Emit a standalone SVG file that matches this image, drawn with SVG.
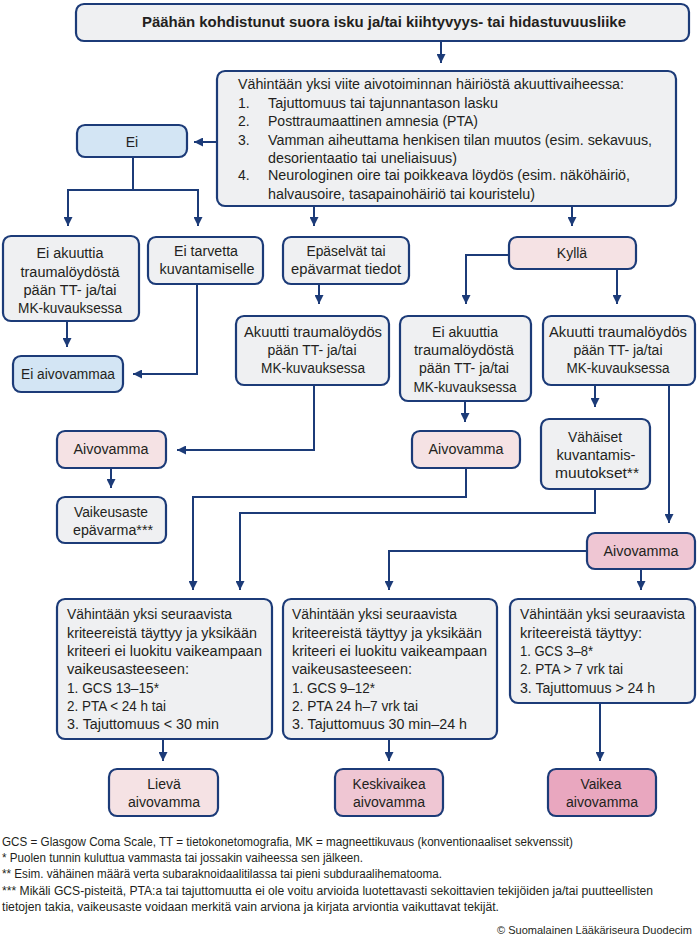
<svg xmlns="http://www.w3.org/2000/svg" width="700" height="947" viewBox="0 0 700 947">
<defs>
<style>
.box{fill:#eff0f2;stroke:#1c3b78;stroke-width:2.2}
.blue{fill:#d3e5f4}
.pink1{fill:#f5e2e4}
.pink2{fill:#efc6d3}
.pink3{fill:#e9a7bf}
text{font-family:"Liberation Sans",Arial,sans-serif;font-size:14px;fill:#231f20}
.c{text-anchor:middle}
.b{font-weight:bold;font-size:15px}
.f{font-size:12px}
.cp{font-size:11.5px}
.con path{fill:none;stroke:#1c3b78;stroke-width:2;marker-end:url(#ah)}
</style>
<marker id="ah" viewBox="0 0 10 10" refX="10" refY="5" markerWidth="9" markerHeight="9" markerUnits="userSpaceOnUse" orient="auto">
<path d="M0,0 L10,5 L0,10 z" fill="#1c3b78"/>
</marker>
</defs>
<rect width="700" height="947" fill="#ffffff"/>

<g class="con">
<path d="M441,41 V63"/>
<path d="M217,142 H194"/>
<path d="M133,157 V190 H68 V226"/>
<path d="M133,190 H198 V226"/>
<path d="M314,206 V226"/>
<path d="M572,206 V226"/>
<path d="M67,321 V347"/>
<path d="M197,284 V374 H133"/>
<path d="M319,284 V304"/>
<path d="M314,385 V450 H177"/>
<path d="M111,468 V488"/>
<path d="M509,255 H466 V304"/>
<path d="M617,269 V304"/>
<path d="M465,401 V422"/>
<path d="M595,385 V407"/>
<path d="M669,385 V523"/>
<path d="M466,468 V497 H193 V590"/>
<path d="M595,489 V513 H240 V590"/>
<path d="M587,551 H389 V590"/>
<path d="M641,569 V590"/>
<path d="M163,739 V761"/>
<path d="M389,739 V761"/>
<path d="M600,703 V761"/>
</g>

<g id="n-top">
<rect class="box" x="76" y="4" width="613" height="37" rx="8"/>
<text class="b" x="142" y="27" textLength="484" lengthAdjust="spacingAndGlyphs">Päähän kohdistunut suora isku ja/tai kiihtyvyys- tai hidastuvuusliike</text>
</g>

<g id="n-criteria">
<rect class="box" x="217" y="71" width="459" height="135" rx="8"/>
<text x="238" y="89" textLength="386" lengthAdjust="spacingAndGlyphs">Vähintään yksi viite aivotoiminnan häiriöstä akuuttivaiheessa:</text>
<text x="238" y="108">1.</text>
<text x="268" y="108" textLength="230" lengthAdjust="spacingAndGlyphs">Tajuttomuus tai tajunnantason lasku</text>
<text x="238" y="126">2.</text>
<text x="268" y="126" textLength="210" lengthAdjust="spacingAndGlyphs">Posttraumaattinen amnesia (PTA)</text>
<text x="238" y="145">3.</text>
<text x="268" y="145" textLength="384" lengthAdjust="spacingAndGlyphs">Vamman aiheuttama henkisen tilan muutos (esim. sekavuus,</text>
<text x="268" y="163" textLength="189" lengthAdjust="spacingAndGlyphs">desorientaatio tai uneliaisuus)</text>
<text x="238" y="180">4.</text>
<text x="268" y="180" textLength="362" lengthAdjust="spacingAndGlyphs">Neurologinen oire tai poikkeava löydös (esim. näköhäiriö,</text>
<text x="268" y="199" textLength="267" lengthAdjust="spacingAndGlyphs">halvausoire, tasapainohäiriö tai kouristelu)</text>
</g>

<g id="n-ei">
<rect class="box blue" x="77" y="125" width="110" height="32" rx="8"/>
<text class="c" x="132" y="147">Ei</text>
</g>

<g id="n-eiakuuttia1">
<rect class="box" x="3" y="236" width="136" height="85" rx="8"/>
<text class="c" x="70" y="258" textLength="67" lengthAdjust="spacingAndGlyphs">Ei akuuttia</text>
<text class="c" x="70" y="277" textLength="99" lengthAdjust="spacingAndGlyphs">traumalöydöstä</text>
<text class="c" x="70" y="295" textLength="93" lengthAdjust="spacingAndGlyphs">pään TT- ja/tai</text>
<text class="c" x="70" y="313" textLength="104" lengthAdjust="spacingAndGlyphs">MK-kuvauksessa</text>
</g>

<g id="n-eitarvetta">
<rect class="box" x="148" y="237" width="115" height="47" rx="8"/>
<text class="c" x="206" y="256" textLength="64" lengthAdjust="spacingAndGlyphs">Ei tarvetta</text>
<text class="c" x="207" y="274" textLength="95" lengthAdjust="spacingAndGlyphs">kuvantamiselle</text>
</g>

<g id="n-epaselvat">
<rect class="box" x="283" y="237" width="126" height="47" rx="8"/>
<text class="c" x="346" y="256" textLength="79" lengthAdjust="spacingAndGlyphs">Epäselvät tai</text>
<text class="c" x="346" y="274" textLength="110" lengthAdjust="spacingAndGlyphs">epävarmat tiedot</text>
</g>

<g id="n-kylla">
<rect class="box pink1" x="509" y="237" width="127" height="32" rx="8"/>
<text class="c" x="572" y="258">Kyllä</text>
</g>

<g id="n-eiaivovammaa">
<rect class="box blue" x="13" y="356" width="110" height="36" rx="8"/>
<text class="c" x="68" y="379" textLength="94" lengthAdjust="spacingAndGlyphs">Ei aivovammaa</text>
</g>

<g id="n-akuutti1">
<rect class="box" x="236" y="316" width="153" height="69" rx="8"/>
<text class="c" x="313" y="337" textLength="138" lengthAdjust="spacingAndGlyphs">Akuutti traumalöydös</text>
<text class="c" x="312" y="355" textLength="89" lengthAdjust="spacingAndGlyphs">pään TT- ja/tai</text>
<text class="c" x="313" y="373" textLength="104" lengthAdjust="spacingAndGlyphs">MK-kuvauksessa</text>
</g>

<g id="n-eiakuuttia2">
<rect class="box" x="400" y="316" width="131" height="85" rx="8"/>
<text class="c" x="465" y="337" textLength="66" lengthAdjust="spacingAndGlyphs">Ei akuuttia</text>
<text class="c" x="464" y="355" textLength="100" lengthAdjust="spacingAndGlyphs">traumalöydöstä</text>
<text class="c" x="464" y="373" textLength="90" lengthAdjust="spacingAndGlyphs">pään TT- ja/tai</text>
<text class="c" x="465" y="392" textLength="103" lengthAdjust="spacingAndGlyphs">MK-kuvauksessa</text>
</g>

<g id="n-akuutti2">
<rect class="box" x="543" y="316" width="152" height="69" rx="8"/>
<text class="c" x="618" y="337" textLength="138" lengthAdjust="spacingAndGlyphs">Akuutti traumalöydös</text>
<text class="c" x="618" y="355" textLength="89" lengthAdjust="spacingAndGlyphs">pään TT- ja/tai</text>
<text class="c" x="618" y="373" textLength="103" lengthAdjust="spacingAndGlyphs">MK-kuvauksessa</text>
</g>

<g id="n-aivovamma1">
<rect class="box pink1" x="57" y="431" width="109" height="37" rx="8"/>
<text class="c" x="111" y="454" textLength="75" lengthAdjust="spacingAndGlyphs">Aivovamma</text>
</g>

<g id="n-aivovamma2">
<rect class="box pink1" x="412" y="431" width="108" height="37" rx="8"/>
<text class="c" x="466" y="454" textLength="75" lengthAdjust="spacingAndGlyphs">Aivovamma</text>
</g>

<g id="n-vahaiset">
<rect class="box" x="541" y="419" width="109" height="70" rx="8"/>
<text class="c" x="595" y="442" textLength="54" lengthAdjust="spacingAndGlyphs">Vähäiset</text>
<text class="c" x="596" y="460" textLength="79" lengthAdjust="spacingAndGlyphs">kuvantamis-</text>
<text class="c" x="597" y="478" textLength="84" lengthAdjust="spacingAndGlyphs">muutokset**</text>
</g>

<g id="n-vaikeusaste">
<rect class="box" x="57" y="497" width="109" height="46" rx="8"/>
<text class="c" x="111" y="517" textLength="74" lengthAdjust="spacingAndGlyphs">Vaikeusaste</text>
<text class="c" x="113" y="535" textLength="80" lengthAdjust="spacingAndGlyphs">epävarma***</text>
</g>

<g id="n-aivovamma3">
<rect class="box pink2" x="587" y="533" width="108" height="36" rx="8"/>
<text class="c" x="641" y="556" textLength="75" lengthAdjust="spacingAndGlyphs">Aivovamma</text>
</g>

<g id="n-mild">
<rect class="box" x="57" y="599" width="215" height="140" rx="8"/>
<text x="67" y="619" textLength="165" lengthAdjust="spacingAndGlyphs">Vähintään yksi seuraavista</text>
<text x="67" y="638" textLength="190" lengthAdjust="spacingAndGlyphs">kriteereistä täyttyy ja yksikään</text>
<text x="67" y="656" textLength="195" lengthAdjust="spacingAndGlyphs">kriteeri ei luokitu vaikeampaan</text>
<text x="67" y="674" textLength="122" lengthAdjust="spacingAndGlyphs">vaikeusasteeseen:</text>
<text x="67" y="693" textLength="92" lengthAdjust="spacingAndGlyphs">1. GCS 13–15*</text>
<text x="67" y="711" textLength="99" lengthAdjust="spacingAndGlyphs">2. PTA &lt; 24 h tai</text>
<text x="67" y="729" textLength="152" lengthAdjust="spacingAndGlyphs">3. Tajuttomuus &lt; 30 min</text>
</g>

<g id="n-moderate">
<rect class="box" x="283" y="599" width="214" height="140" rx="8"/>
<text x="292" y="619" textLength="165" lengthAdjust="spacingAndGlyphs">Vähintään yksi seuraavista</text>
<text x="292" y="638" textLength="190" lengthAdjust="spacingAndGlyphs">kriteereistä täyttyy ja yksikään</text>
<text x="292" y="656" textLength="195" lengthAdjust="spacingAndGlyphs">kriteeri ei luokitu vaikeampaan</text>
<text x="292" y="674" textLength="120" lengthAdjust="spacingAndGlyphs">vaikeusasteeseen:</text>
<text x="292" y="693" textLength="83" lengthAdjust="spacingAndGlyphs">1. GCS 9–12*</text>
<text x="292" y="711" textLength="126" lengthAdjust="spacingAndGlyphs">2. PTA 24 h–7 vrk tai</text>
<text x="292" y="729" textLength="175" lengthAdjust="spacingAndGlyphs">3. Tajuttomuus 30 min–24 h</text>
</g>

<g id="n-severe">
<rect class="box" x="510" y="599" width="185" height="104" rx="8"/>
<text x="520" y="619" textLength="165" lengthAdjust="spacingAndGlyphs">Vähintään yksi seuraavista</text>
<text x="520" y="638" textLength="122" lengthAdjust="spacingAndGlyphs">kriteereistä täyttyy:</text>
<text x="520" y="656" textLength="73" lengthAdjust="spacingAndGlyphs">1. GCS 3–8*</text>
<text x="520" y="674" textLength="103" lengthAdjust="spacingAndGlyphs">2. PTA &gt; 7 vrk tai</text>
<text x="520" y="693" textLength="135" lengthAdjust="spacingAndGlyphs">3. Tajuttomuus &gt; 24 h</text>
</g>

<g id="n-lieva">
<rect class="box pink1" x="109" y="769" width="109" height="47" rx="8"/>
<text class="c" x="164" y="789">Lievä</text>
<text class="c" x="164" y="807" textLength="72" lengthAdjust="spacingAndGlyphs">aivovamma</text>
</g>

<g id="n-keskivaikea">
<rect class="box pink2" x="335" y="769" width="108" height="47" rx="8"/>
<text class="c" x="389" y="789" textLength="73" lengthAdjust="spacingAndGlyphs">Keskivaikea</text>
<text class="c" x="389" y="807" textLength="72" lengthAdjust="spacingAndGlyphs">aivovamma</text>
</g>

<g id="n-vaikea">
<rect class="box pink3" x="548" y="769" width="108" height="47" rx="8"/>
<text class="c" x="601" y="789" textLength="41" lengthAdjust="spacingAndGlyphs">Vaikea</text>
<text class="c" x="602" y="807" textLength="72" lengthAdjust="spacingAndGlyphs">aivovamma</text>
</g>

<g id="footer">
<text class="f" x="2" y="846" textLength="571" lengthAdjust="spacingAndGlyphs">GCS = Glasgow Coma Scale, TT = tietokonetomografia, MK = magneettikuvaus (konventionaaliset sekvenssit)</text>
<text class="f" x="2" y="862" textLength="361" lengthAdjust="spacingAndGlyphs">* Puolen tunnin kuluttua vammasta tai jossakin vaiheessa sen jälkeen.</text>
<text class="f" x="2" y="878" textLength="440" lengthAdjust="spacingAndGlyphs">** Esim. vähäinen määrä verta subaraknoidaalitilassa tai pieni subduraalihematooma.</text>
<text class="f" x="2" y="895" textLength="651" lengthAdjust="spacingAndGlyphs">*** Mikäli GCS-pisteitä, PTA:a tai tajuttomuutta ei ole voitu arvioida luotettavasti sekoittavien tekijöiden ja/tai puutteellisten</text>
<text class="f" x="2" y="911" textLength="497" lengthAdjust="spacingAndGlyphs">tietojen takia, vaikeusaste voidaan merkitä vain arviona ja kirjata arviontia vaikuttavat tekijät.</text>
<text class="cp" x="497" y="934" textLength="195" lengthAdjust="spacingAndGlyphs">© Suomalainen Lääkäriseura Duodecim</text>
</g>
</svg>
